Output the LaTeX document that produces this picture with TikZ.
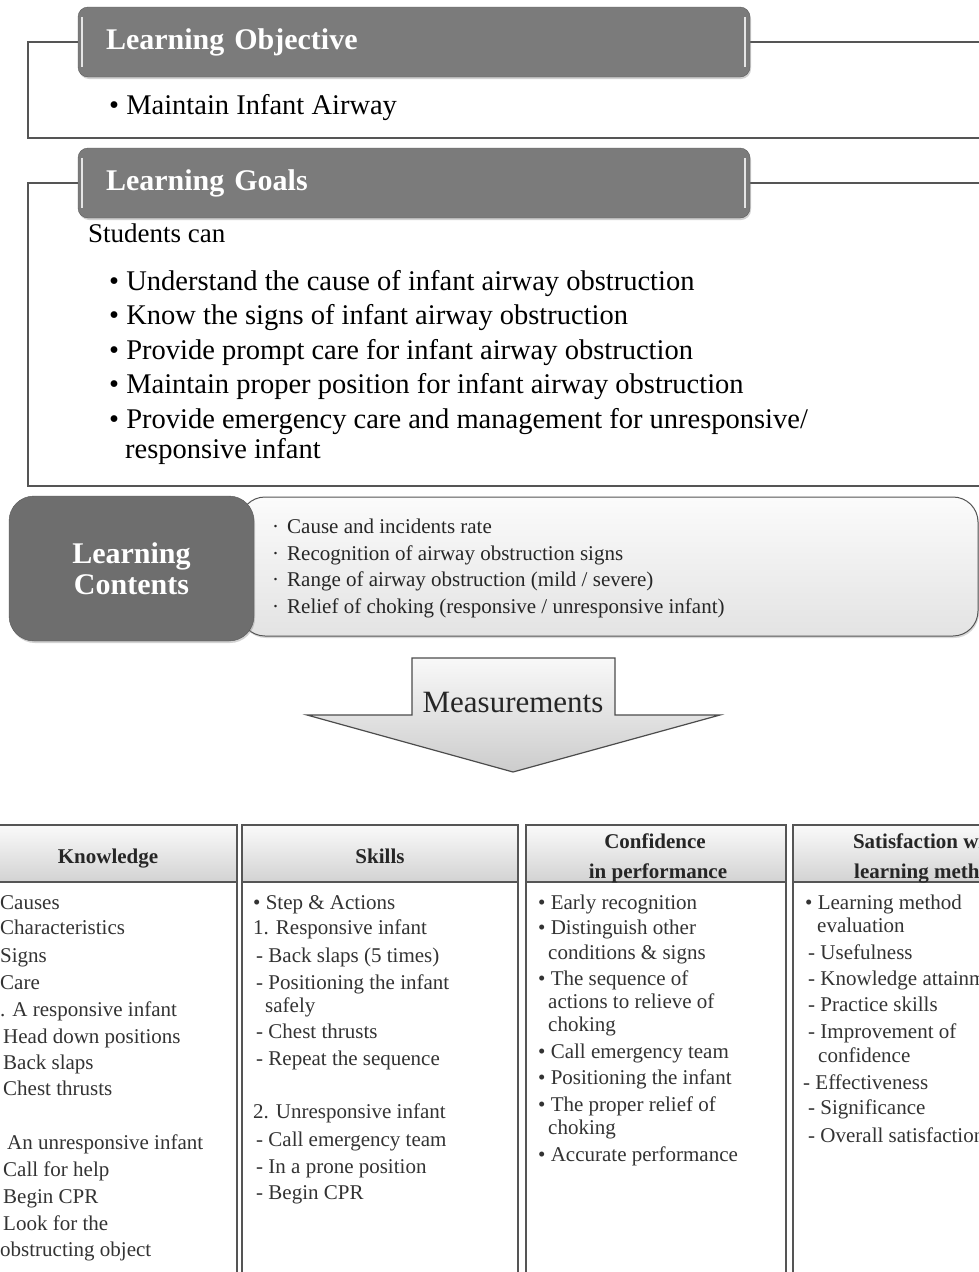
\documentclass[tikz,border=0pt]{standalone}
\usepackage{fontspec}
\setmainfont{Liberation Serif}
\usetikzlibrary{shadows}
\definecolor{hdrgray}{HTML}{7B7B7B}
\definecolor{linegray}{HTML}{555555}
\definecolor{darkbox}{HTML}{6E6E6E}
\definecolor{tabtext}{HTML}{333333}
\newcommand{\fsz}[1]{\fontsize{#1}{#1}\selectfont}
\begin{document}
\begin{tikzpicture}[x=1pt,y=-1pt,
  hdr/.style={draw=hdrgray!75!black, fill=hdrgray, rounded corners=10pt,
    minimum width=672pt, minimum height=70pt, text width=616pt, align=left,
    inner xsep=28pt, text=white, font=\fsz{30}\bfseries,
    drop shadow={shadow xshift=1pt, shadow yshift=-2pt, opacity=0.35}},
  hilite/.style={draw=white!80!hdrgray, line width=1.5pt},
  frameline/.style={draw=linegray, line width=1.2pt},
  txt/.style={anchor=base west, inner sep=0pt, text=black},
  goal/.style={txt, font=\fsz{28.5}},
  cont/.style={txt, font=\fsz{21}, text=black!85},
  tab/.style={txt, font=\fsz{21}, text=tabtext},
  tabhead/.style={anchor=base, inner sep=0pt, font=\fsz{21}\bfseries, text=black!85},
  tabline/.style={draw=linegray, line width=1.3pt}
]
\useasboundingbox (0,0) rectangle (979,1272);
\clip (0,0) rectangle (979,1272);
\fill[white] (0,0) rectangle (979,1272);

% ---------- Learning Objective ----------
\coordinate (objbl) at (28,138);
\coordinate (objbr) at (995,138);
\coordinate (objtr) at (995,42);
\coordinate (objtl) at (28,42);
\draw[frameline] (objtr) -- (750,42);
\draw[frameline] (78,42) -- (objtl) -- (objbl) -- (objbr);
\node[hdr] (obj) at (414,42) {Learning Objective};
\draw[hilite] ([xshift=4pt,yshift=-10pt]obj.north west) -- ([xshift=4pt,yshift=10pt]obj.south west);
\draw[hilite] ([xshift=-5pt,yshift=-10pt]obj.north east) -- ([xshift=-5pt,yshift=10pt]obj.south east);
\node[goal] (objb) at (109,114) {• Maintain Infant Airway};

% ---------- Learning Goals ----------
\coordinate (gbl) at (28,486);
\coordinate (gbr) at (995,486);
\coordinate (gtr) at (995,183);
\coordinate (gtl) at (28,183);
\draw[frameline] (gtr) -- (750,183);
\draw[frameline] (78,183) -- (gtl) -- (gbl) -- (gbr);
\node[hdr] (goals) at (414,183) {Learning Goals};
\draw[hilite] ([xshift=4pt,yshift=-10pt]goals.north west) -- ([xshift=4pt,yshift=10pt]goals.south west);
\draw[hilite] ([xshift=-5pt,yshift=-10pt]goals.north east) -- ([xshift=-5pt,yshift=10pt]goals.south east);
\node[txt, font=\fsz{27}] (stud) at (88,242) {Students can};
\foreach \t [count=\i] in {
  {Understand the cause of infant airway obstruction},
  {Know the signs of infant airway obstruction},
  {Provide prompt care for infant airway obstruction},
  {Maintain proper position for infant airway obstruction},
  {Provide emergency care and management for unresponsive/}} {
  \node[goal] (g\i) at (109,{290+34.5*(\i-1)}) {• \t};
}
\node[goal] (g6) at (125,458) {responsive infant};

% ---------- Learning Contents ----------
\path[draw=linegray, line width=1pt, rounded corners=25pt, top color=white!97!gray, bottom color=gray!22,
  drop shadow={shadow xshift=1pt, shadow yshift=-2pt, opacity=0.3}] (240,497) rectangle (978,636);
\node[draw=darkbox!80!black, fill=darkbox, rounded corners=25pt, minimum width=245pt, minimum height=145pt,
  align=center, text=white, font=\fontsize{30}{31}\selectfont\bfseries,
  drop shadow={shadow xshift=1pt, shadow yshift=-2pt, opacity=0.35}] (lc) at (131.5,568.5) {Learning\\Contents};
\node[cont] (cb1) at (272,533) {·};
\node[cont] (c1) at (287,533) {Cause and incidents rate};
\node[cont] (cb2) at (272,560) {·};
\node[cont] (c2) at (287,560) {Recognition of airway obstruction signs};
\node[cont] (cb3) at (272,586) {·};
\node[cont] (c3) at (287,586) {Range of airway obstruction (mild / severe)};
\node[cont] (cb4) at (272,613) {·};
\node[cont] (c4) at (287,613) {Relief of choking (responsive / unresponsive infant)};

% ---------- Measurements arrow ----------
\path[draw=black!70, line width=1.2pt, top color=gray!5, bottom color=gray!40]
  (412,658) -- (615,658) -- (615,715) -- (720,715) -- (513,772) -- (307,715) -- (412,715) -- cycle;
\node[anchor=base, inner sep=0pt, font=\fsz{31}, text=black!85] (meas) at (513,712) {Measurements};

% ---------- Table ----------
\foreach \a/\b [count=\i] in {-21/237, 242/518, 526/786, 793/1063} {
  \path[top color=gray!4, bottom color=gray!35] (\a,825) rectangle (\b,882);
  \draw[tabline] (\a,825) rectangle (\b,1300);
  \draw[tabline] (\a,882) -- (\b,882);
}
\node[tabhead] (hk) at (108,863) {Knowledge};
\node[tabhead] (hs) at (380,863) {Skills};
\node[tabhead] (hc1) at (655,848) {Confidence};
\node[tabhead] (hc2) at (658,878) {in performance};
\node[tabhead] (hsa1) at (928,848) {Satisfaction with};
\node[tabhead] (hsa2) at (928,878) {learning method};

\foreach \x/\y/\t [count=\i] in {
  0/909/Causes, 0/934/Characteristics, 0/962/Signs, 0/989/Care,
  0/1016/{. A responsive infant}, 3/1043/{Head down positions}, 3/1069/{Back slaps},
  3/1095/{Chest thrusts}, 7/1149/{An unresponsive infant}, 3/1176/{Call for help},
  3/1203/{Begin CPR}, 3/1230/{Look for the}, 0/1256/{obstructing object}} {
  \node[tab] (k\i) at (\x,\y) {\t};
}
\foreach \x/\y/\t [count=\i] in {
  253/909/{• Step \& Actions}, 253/934/{1. Responsive infant},
  256/962/{- Back slaps (5 times)}, 256/989/{- Positioning the infant},
  265/1012/{safely}, 256/1038/{- Chest thrusts}, 256/1065/{- Repeat the sequence},
  253/1118/{2. Unresponsive infant}, 256/1146/{- Call emergency team},
  256/1173/{- In a prone position}, 256/1199/{- Begin CPR}} {
  \node[tab] (s\i) at (\x,\y) {\t};
}
\foreach \x/\y/\t [count=\i] in {
  538/909/{• Early recognition}, 538/934/{• Distinguish other},
  548/959/{conditions \& signs}, 538/985/{• The sequence of},
  548/1008/{actions to relieve of}, 548/1031/{choking},
  538/1058/{• Call emergency team}, 538/1084/{• Positioning the infant},
  538/1111/{• The proper relief of}, 548/1134/{choking},
  538/1161/{• Accurate performance}} {
  \node[tab] (c\i) at (\x,\y) {\t};
}
\foreach \x/\y/\t [count=\i] in {
  805/909/{• Learning method}, 817/932/{evaluation},
  808/959/{- Usefulness}, 808/985/{- Knowledge attainment},
  808/1011/{- Practice skills}, 808/1038/{- Improvement of},
  818/1062/{confidence}, 803/1089/{- Effectiveness},
  808/1114/{- Significance}, 808/1142/{- Overall satisfaction}} {
  \node[tab] (sa\i) at (\x,\y) {\t};
}
\end{tikzpicture}
\end{document}
